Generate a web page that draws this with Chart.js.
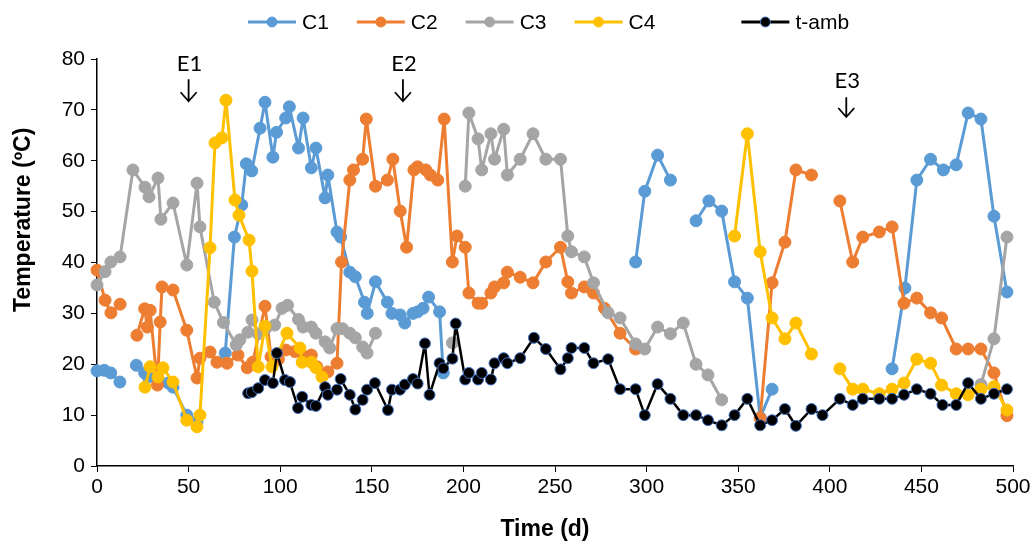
<!DOCTYPE html>
<html>
<head>
<meta charset="utf-8">
<title>Temperature</title>
<script src="https://cdn.jsdelivr.net/npm/chart.js@4.4.1/dist/chart.umd.min.js"></script>
<style>
  html, body { margin: 0; padding: 0; background: #fff; }
</style>
</head>
<body>
<canvas id="tempChart" width="1034" height="543"></canvas>
<script>
// Series: day / temperature pairs, null marks a break in the line
const c1Days = [0, 4, 7.5, 12.5, null,
  21.5, 26, 28, 33, 39, 41.5, 49, 54.6, null,
  70, 75, 79, 81.5, 84.5, 89, 91.7, 96, 98, 103, 105, 110, 112.5, 117, 119.5, 124.5, 126, 131, 133, 138,
  141, 146, 147.5, 152, 158.5, 161, 165.5, 168, 172.5, 175, 178, 181, 187, 189, null,
  294, 299, 306, 313, null,
  327, 334, 341, 348, 355, 362, 368.5, null,
  434, 441, 447.5, 455, 462, 469, 475.5, 482.5, 489.6, 496.7];
const c1Temp = [18.7, 18.8, 18.3, 16.5, null,
  19.8, 18.3, 17.5, 17.3, 16.3, 15.5, 10, 8.7, null,
  22.2, 45, 51.3, 59.4, 58, 66.4, 71.5, 60.7, 65.6, 68.4, 70.6, 62.5, 68.4, 58.6, 62.5, 52.7, 57.2, 46, 45, 38.1,
  37.2, 32.2, 30, 36.2, 32.2, 30, 29.7, 28.1, 30, 30.3, 31, 33.2, 30.3, 18.3, null,
  40.1, 54, 61.1, 56.2, null,
  48.2, 52.1, 50.1, 36.2, 33, 9.5, 15.1, null,
  19.1, 35, 56.2, 60.3, 58.2, 59.2, 69.4, 68.2, 49.1, 34.2];

const c2Days = [0, 4.4, 7.6, 12.6, null,
  21.8, 26, 27.5, 29, 33, 34.5, 35.5, 41.5, 49, 54.6, 56.2, 61.7, 65.5, 71, 77, 82, 85, 91.7, 95, 99,
  103, 108, 113, 117, 120, 126, 131, 133.5, 138, 140, 145, 147, 152, 158.5, 161.5, 165.5, 169, 173, 175, 179.5,
  182, 186, 189.5, 194, 196.5, 201, 203, 208, 210, 215, 217, 222, 224, 231, 238, 245, 253, 257, 259, 266,
  271, 277, 285.5, 294, null,
  362, 368.5, 375.5, 381.5, 390, null,
  405.5, 412.5, 418, 427, 434, 440.5, 447.5, 455, 461, 469, 475.5, 482.5, 489.6, 496.7];
const c2Temp = [38.5, 32.6, 30.1, 31.8, null,
  25.7, 30.9, 27.3, 30.6, 15.9, 28.3, 35.2, 34.6, 26.7, 17.3, 21.2, 22.4, 20.4, 20.2, 21.8, 19.3, 20.4, 31.4, 21.5, 21,
  22.8, 22.5, 21.5, 21.8, 19.5, 18.5, 20.2, 40.1, 56.2, 58.2, 60.3, 68.2, 55, 56.2, 60.3, 50.1, 43, 58.2, 58.8, 58.2,
  57.2, 56.2, 68.2, 40.1, 45.2, 43, 34, 32, 32, 34, 35.2, 36, 38.1, 37.1, 36, 40.1, 43, 36.2, 34, 35.2,
  34, 31, 26.1, 23, null,
  9.4, 36, 44, 58.2, 57.2, null,
  52.1, 40.1, 45, 46, 47, 32, 33, 30.1, 29.1, 23, 23, 23, 18.3, 9.9];

const c3Days = [0, 4.4, 7.6, 12.6, 19.6, 26.2, 28.4, 33.3, 34.9, 41.5, 49, 54.6, 56.2, 64, 69,
  76, 78, 82.4, 84.6, 88, 92, 97, 101, 104, 110, 112.5, 117, 119.5, 124.5, 127, 131, 134, 138, 141, 145,
  147.4, 152, null,
  194, null,
  201, 203, 208, 210, 215, 217, 222, 224, 231, 238, 245, 253, 257, 259, 266, 271, 279, 285.5, 294, 299,
  306, 313, 320, 327, 333.5, 341, null,
  482.5, 489.6, 496.7];
const c3Temp = [35.6, 38.2, 40.1, 41.1, 58.2, 54.8, 52.9, 56.6, 48.5, 51.7, 39.5, 55.6, 47, 32.2, 28.2,
  23.8, 24.8, 26.3, 28.7, 26, 27, 27.7, 31, 31.6, 28.8, 27.3, 27.3, 26.1, 24.4, 23.2, 27, 27, 26.1, 25.2, 23.4,
  22.2, 26.1, null,
  24.2, null,
  55, 69.4, 64.3, 58.2, 65.3, 60.3, 66.2, 57.2, 60.3, 65.3, 60.3, 60.3, 45.2, 42.1, 41.1, 36, 30.1, 29.1, 24, 23,
  27.3, 26, 28.1, 20, 17.9, 13, null,
  16, 25, 45];

const c4Days = [26.2, 29, 33.3, 36, 41.5, 49, 54.6, 56.2, 61.7, 64.4, 68.2, 70.4, 75.3, 77.5, 83,
  84.6, 88, 91.7, 95.5, 103.7, 110.8, 112, 117, 119.5, 122.8, null,
  348, 355, 362, 368.5, 375.5, 381.5, 390, null,
  405.5, 412.5, 418, 427, 434, 440.5, 447.5, 455, 461, 469, 475.5, 482.5, 489.6, 496.7];
const c4Temp = [15.5, 19.5, 17.5, 19.3, 16.5, 9, 7.7, 10, 42.9, 63.5, 64.5, 71.9, 52.3, 49.3, 44.4,
  38.3, 19.5, 27.5, 19.5, 26.1, 23.2, 20.4, 20.4, 19.3, 17.5, null,
  45.2, 65.3, 42.1, 29.1, 25, 28.1, 22, null,
  19.1, 15.1, 15.1, 14.2, 15.1, 16.3, 21, 20.2, 15.9, 14.2, 14, 15.1, 15.6, 11];

const ambDays = [82.5, 84.5, 88, 91.7, 96, 98.2, 102.6, 105.3, 109.7, 112, 117, 119.5, 124.5, 126,
  131, 133, 138, 141, 145, 147.4, 151.7, 158.8, 161, 165.4, 168, 172.5, 175, 179, 181.5, 187, 189, 194, 195.8,
  201, 203, 208, 210, 215, 217, 222, 224, 231, 238.5, 245, 253, 257, 259, 266, 271, 279, 285.5, 294, 299,
  306, 313, 320, 327, 333.5, 341, 348, 355, 362, 368.5, 375.5, 381.5, 390, 396, 405.5, 412.5, 418, 427,
  434, 440.5, 447.5, 455, 461.5, 469, 475.5, 482.5, 489.6, 496.7];
const ambTemp = [14.3, 14.5, 15.3, 16.9, 16.3, 22.2, 16.9, 16.5, 11.4, 13.6, 12, 11.8, 15.5, 14,
  15, 17.1, 14, 11.1, 13, 15, 16.3, 11, 15, 15, 16, 17.1, 16.2, 24.1, 14, 20.2, 19.2, 21.1, 28,
  17, 18.3, 17, 18.3, 17, 20.2, 21.2, 20.2, 21.2, 25.2, 23, 19, 21.2, 23.2, 23.2, 20.2, 21, 15.1, 15.1, 10,
  16.1, 13.2, 10, 10, 9, 8, 10, 13.2, 8, 9, 11.2, 7.9, 11.2, 10, 13.2, 12, 13.2, 13.2,
  13.2, 14, 15.1, 14.2, 12, 12, 16.3, 13.2, 14.2, 15.1];

const seriesNames = ["C1", "C2", "C3", "C4", "t-amb"];
const events = [
    { text: "E1", day: 50, textY: 79, from: 76, to: 71.7 },
    { text: "E2", day: 167, textY: 79, from: 76, to: 71.7 },
    { text: "E3", day: 409, textY: 75.7, from: 72.5, to: 68.6 }
];

function toPoints(days, temps) {
    return days.map((d, i) => ({ x: d, y: temps[i] }));
}

function series(label, days, temps, color, order) {
    return {
        label: label,
        data: toPoints(days, temps),
        borderColor: color,
        backgroundColor: color,
        pointBackgroundColor: color,
        pointBorderColor: color,
        borderWidth: 3,
        borderJoinStyle: "round",
        pointRadius: 6,
        pointBorderWidth: 1,
        spanGaps: false,
        clip: false,
        order: order
    };
}

const ambSeries = series(seriesNames[4], ambDays, ambTemp, "#000000", 1);
ambSeries.borderWidth = 2.5;
ambSeries.pointRadius = 5.5;
ambSeries.pointBorderColor = "#4472C4";

const datasets = [
    series(seriesNames[0], c1Days, c1Temp, "#5B9BD5", 5),
    series(seriesNames[1], c2Days, c2Temp, "#ED7D31", 4),
    series(seriesNames[2], c3Days, c3Temp, "#A5A5A5", 3),
    series(seriesNames[3], c4Days, c4Temp, "#FFC000", 2),
    ambSeries
];

const tickFont = { family: "'Liberation Sans', Arial, sans-serif", size: 21 };

// legend row, axis titles and the E1-E3 event arrows
const decorations = {
    id: "decorations",
    afterDraw(chart) {
        const ctx = chart.ctx;
        const xs = chart.scales.x;
        const ys = chart.scales.y;
        ctx.save();

        // legend
        ctx.font = "21px 'Liberation Sans', Arial, sans-serif";
        ctx.textBaseline = "middle";
        ctx.textAlign = "left";
        let lx = 248;
        const ly = 22;
        chart.data.datasets.forEach((ds, i) => {
            ctx.strokeStyle = ds.borderColor;
            ctx.lineWidth = 3;
            ctx.beginPath();
            ctx.moveTo(lx, ly);
            ctx.lineTo(lx + 48, ly);
            ctx.stroke();
            ctx.beginPath();
            ctx.arc(lx + 24, ly, 5, 0, Math.PI * 2);
            ctx.fillStyle = ds.pointBackgroundColor;
            ctx.fill();
            ctx.lineWidth = 1;
            ctx.strokeStyle = ds.pointBorderColor;
            ctx.stroke();
            ctx.fillStyle = "#000";
            ctx.fillText(ds.label, lx + 54, ly + 1);
            lx += 54 + ctx.measureText(ds.label).width + 28;
            if (i === 3) lx += 58;
        });

        // axis titles
        ctx.font = "bold 23px 'Liberation Sans', Arial, sans-serif";
        ctx.textAlign = "center";
        ctx.fillText("Time (d)", 545, 530);
        ctx.translate(24, 312);
        ctx.rotate(-Math.PI / 2);
        ctx.textAlign = "left";
        ctx.fillText("Temperature (ºC)", 0, 0);
        ctx.setTransform(1, 0, 0, 1, 0, 0);

        // event markers
        ctx.font = "22px Lato, 'Open Sans', sans-serif";
        ctx.textAlign = "center";
        ctx.strokeStyle = "#000";
        ctx.lineWidth = 1.8;
        events.forEach(ev => {
            const x = xs.getPixelForValue(ev.day);
            const y1 = ys.getPixelForValue(ev.from);
            const y2 = ys.getPixelForValue(ev.to);
            ctx.fillText(ev.text, x + 1, ys.getPixelForValue(ev.textY));
            ctx.beginPath();
            ctx.moveTo(x, y1);
            ctx.lineTo(x, y2);
            ctx.moveTo(x - 8, y2 - 9);
            ctx.lineTo(x, y2);
            ctx.lineTo(x + 8, y2 - 9);
            ctx.stroke();
        });
        ctx.restore();
    }
};

new Chart(document.getElementById("tempChart").getContext("2d"), {
    type: "line",
    data: { datasets: datasets },
    options: {
        responsive: false,
        animation: false,
        devicePixelRatio: 1,
        layout: { padding: { top: 59, right: 21, left: 0, bottom: 0 } },
        plugins: {
            legend: { display: false },
            tooltip: { enabled: false }
        },
        scales: {
            x: {
                type: "linear",
                min: 0,
                max: 500,
                ticks: { stepSize: 50, font: tickFont, color: "#000", padding: 3, maxRotation: 0 },
                grid: { drawOnChartArea: false, drawTicks: true, tickLength: 6, color: "#000" },
                border: { color: "#000", width: 1.5 },
                afterFit: s => { s.height = 77; }
            },
            y: {
                min: 0,
                max: 80,
                ticks: { stepSize: 10, font: tickFont, color: "#000", padding: 6 },
                grid: { drawOnChartArea: false, drawTicks: true, tickLength: 6, color: "#000" },
                border: { color: "#000", width: 1.5 },
                afterFit: s => { s.width = 97; }
            }
        }
    },
    plugins: [decorations]
});
</script>
</body>
</html>
